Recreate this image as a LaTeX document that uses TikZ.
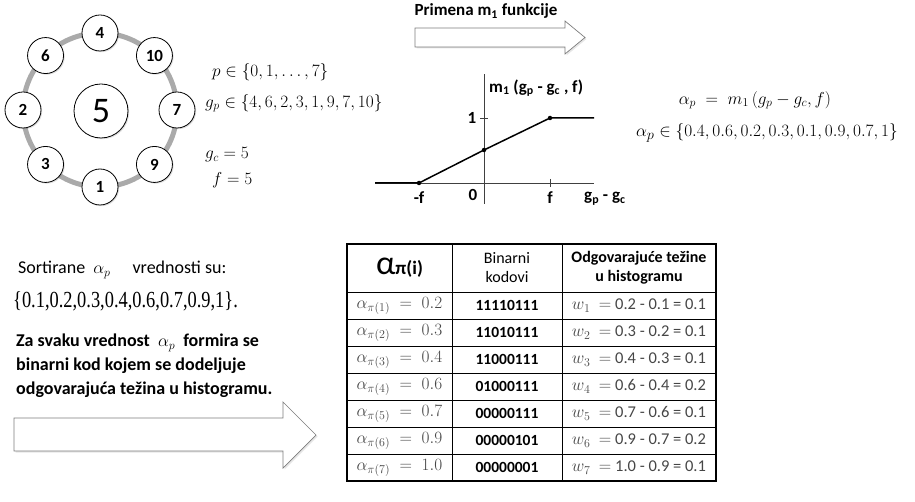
\documentclass[tikz,border=0pt]{standalone}
\usepackage[no-math]{fontspec}
\setmainfont{Carlito}
\newfontfamily\setfont{Liberation Serif}
\usetikzlibrary{shadows}
\definecolor{ringgray}{RGB}{170,170,170}
\definecolor{arrowgray}{RGB}{125,125,125}
\definecolor{textgray}{RGB}{70,70,70}
\tikzset{
	pnode/.style={circle, draw, thick, fill=white, minimum size=36pt, inner sep=0pt,
		font=\fontsize{17}{17}\selectfont\bfseries,
		drop shadow={opacity=0.25, shadow xshift=1.2pt, shadow yshift=-1.2pt}},
	cnode/.style={pnode, minimum size=54pt, font=\fontsize{36}{36}\selectfont},
	formula/.style={font=\fontsize{18.5}{20}\selectfont, inner sep=0pt},
	blockarrow/.style={draw=arrowgray, fill=white, line width=0.7pt,
		drop shadow={opacity=0.2, shadow xshift=1.5pt, shadow yshift=-1.5pt}},
	axis/.style={line width=0.6pt, black!75},
	fn/.style={line width=1.5pt},
	pt/.style={circle, fill, inner sep=0pt, minimum size=4.5pt},
	lbl/.style={font=\fontsize{17}{17}\selectfont\bfseries, inner sep=1pt},
	note/.style={font=\fontsize{18}{24}\selectfont, inner sep=0pt, anchor=west, align=left},
	cell/.style={font=\fontsize{16.5}{18}\selectfont, inner sep=0pt},
	head/.style={font=\fontsize{16}{19}\selectfont, inner sep=0pt, align=center}
}

\begin{document}
\begin{tikzpicture}[x=1pt, y=-1pt]
	\useasboundingbox (0,0) rectangle (915,502);

	% neighbourhood
	\draw[ringgray, line width=5pt] (100,110) circle (77);
	\node[cnode] (gc) at (101,111) {5};
	\foreach \val/\ang in {4/90, 10/45, 7/0, 9/-45, 1/-90, 3/-135, 2/180, 6/135}
		\node[pnode] (g\val) at ({100+77*cos(\ang)},{110-77*sin(\ang)}) {\val};

	\node[formula, anchor=west] (pset) at (212,72) {$p \in \{0, 1, \ldots, 7\}$};
	\node[formula, anchor=west] (gset) at (205,103) {$g_p \in \{4, 6, 2, 3, 1, 9, 7, 10\}$};
	\node[formula, anchor=west] (gcval) at (205,155) {$g_c = 5$};
	\node[formula, anchor=west] (fval) at (212,180) {$f = 5$};

	% m1 arrow
	\draw[blockarrow] (415,28) -- (565,28) -- (565,21) -- (585,37.5) -- (565,54) -- (565,47) -- (415,47) -- cycle;
	\node[lbl] (m1lbl) at (486,11) {Primena m\textsubscript{1} funkcije};

	% graph of m1
	\draw[axis] (375,183) -- (594,183);
	\draw[axis] (484,204) -- (484,74);
	\draw[axis] (550,179) -- (550,187);
	\draw[axis] (480,118) -- (488,118);
	\draw[fn] (375,183) -- (419,183) -- (484,150) -- (550,118) -- (594,118);
	\node[pt] (pl) at (419,183) {};
	\node[pt] (pm) at (484,150) {};
	\node[pt] (pr) at (550,118) {};
	\node[lbl] (xneg) at (419,198) {-f};
	\node[lbl] (xzero) at (473,195) {0};
	\node[lbl] (xpos) at (550,198) {f};
	\node[lbl, anchor=west] (xlbl) at (583,199) {g\textsubscript{p} - g\textsubscript{c}};
	\node[lbl] (yone) at (472,118) {1};
	\node[lbl, anchor=west] (ylbl) at (488,88) {m\textsubscript{1} (g\textsubscript{p} - g\textsubscript{c} , f)};

	\node[formula] (aform) at (755,100) {$\alpha_p \;=\; m_1\,(g_p - g_c, f)$};
	\node[formula, font=\fontsize{19}{20}\selectfont] (aset) at (767,133) {$\alpha_p \in \{0.4, 0.6, 0.2, 0.3, 0.1, 0.9, 0.7, 1\}$};

	% sorted values
	\node[note] (sorted) at (18,270) {Sortirane\ \ $\alpha_p$ \quad vrednosti su:};
	\node[inner sep=0pt, anchor=west, font=\setfont\fontsize{23}{23}\selectfont] (sset) at (13,301)
		{\scalebox{0.8}[1]{\{0.1,0.2,0.3,0.4,0.6,0.7,0.9,1\}.}};
	\node[note, font=\fontsize{18}{24}\selectfont\bfseries] (expl) at (16,366)
		{Za svaku vrednost \ $\alpha_p$ \ formira se\\binarni kod kojem se dodeljuje\\odgovarajuća težina u histogramu.};

	\draw[blockarrow] (14,418) -- (283,418) -- (283,402) -- (316,435) -- (283,468) -- (283,451) -- (14,451) -- cycle;

	% table
	\draw[line width=0.8pt] (452,244) -- (452,481) (562,244) -- (562,481);
	\foreach \k in {0,...,6}
		\draw[line width=0.8pt] (347,{292+27*\k}) -- (716,{292+27*\k});
	\draw[line width=1.2pt] (347,244) rectangle (716,481);

	\node[inner sep=0pt] (h1) at (399.5,268) {{\fontsize{34}{34}\selectfont α}{\fontsize{19}{19}\selectfont\bfseries π(i)}};
	\node[head] (h2) at (507,268) {Binarni\\kodovi};
	\node[head, font=\fontsize{16}{19}\selectfont\bfseries] (h3) at (639,268) {Odgovarajuće težine\\u histogramu};

	\foreach \i/\a/\code/\w in {1/0.2/11110111/{0.2 - 0.1 = 0.1}, 2/0.3/11010111/{0.3 - 0.2 = 0.1},
			3/0.4/11000111/{0.4 - 0.3 = 0.1}, 4/0.6/01000111/{0.6 - 0.4 = 0.2},
			5/0.7/00000111/{0.7 - 0.6 = 0.1}, 6/0.9/00000101/{0.9 - 0.7 = 0.2},
			7/1.0/00000001/{1.0 - 0.9 = 0.1}} {
		\node[cell, font=\fontsize{17}{18}\selectfont, text=textgray] (a\i) at (399.5,{292+27*(\i-0.5)}) {$\alpha_{\pi(\i)} \;=\; \a$};
		\node[cell, font=\fontsize{15.5}{18}\selectfont\bfseries] (b\i) at (507,{292+27*(\i-0.5)}) {\code};
		\node[cell, text=textgray] (w\i) at (639,{292+27*(\i-0.5)}) {$w_{\i}\ =$ \w};
	}
\end{tikzpicture}
\end{document}
